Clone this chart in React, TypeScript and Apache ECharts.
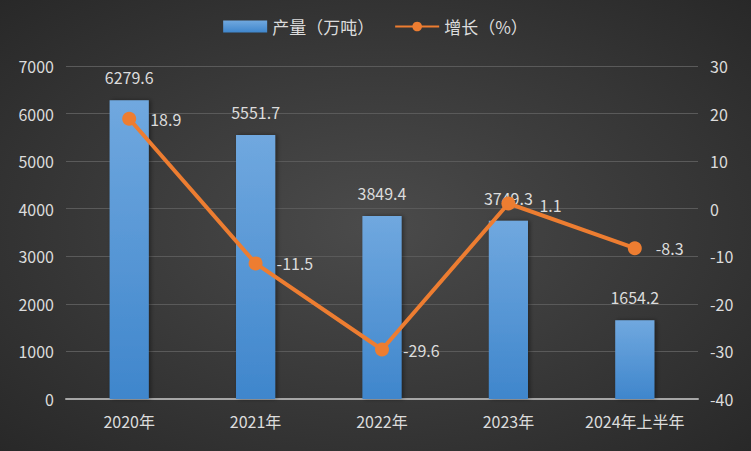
import React, { useEffect, useRef } from "react";
import * as echarts from "echarts";

const categories = ["2020年", "2021年", "2022年", "2023年", "2024年上半年"];
const output = [6279.6, 5551.7, 3849.4, 3749.3, 1654.2];
const growth = [18.9, -11.5, -29.6, 1.1, -8.3];

export default function App() {
  const ref = useRef<HTMLDivElement>(null);
  useEffect(() => {
    const chart = echarts.init(ref.current!, null, { renderer: "svg" });
    const txt = "#dcdcdc";
    const font = "'Noto Sans CJK SC', sans-serif";
    chart.setOption({
      animation: false,
      backgroundColor: {
        type: "radial",
        x: 0.5,
        y: 0.5,
        r: 0.75,
        colorStops: [
          { offset: 0, color: "#4b4b4b" },
          { offset: 1, color: "#262626" },
        ],
      },
      textStyle: { fontFamily: font },
      legend: {
        top: 13,
        left: "center",
        itemWidth: 44,
        itemHeight: 12,
        itemGap: 20,
        textStyle: { color: txt, fontSize: 17, fontFamily: font },
        data: [
          { name: "产量（万吨）", icon: "rect" },
          { name: "增长（%）" },
        ],
      },
      grid: { left: 66, right: 53, top: 66, bottom: 52 },
      xAxis: {
        type: "category",
        data: categories,
        axisLine: { lineStyle: { color: "#a6a6a6", width: 2 } },
        axisTick: { show: false },
        axisLabel: {
          color: txt,
          fontSize: 16,
          margin: 14,
          fontFamily: font,
          interval: 0,
          hideOverlap: false,
        },
      },
      yAxis: [
        {
          type: "value",
          min: 0,
          max: 7000,
          interval: 1000,
          axisLabel: {
            color: txt,
            fontSize: 16,
            margin: 12,
            fontFamily: font,
            formatter: (v: number) => String(v),
          },
          splitLine: { lineStyle: { color: "#5a5a5a", width: 1 } },
          axisLine: { show: false },
        },
        {
          type: "value",
          min: -40,
          max: 30,
          interval: 10,
          axisLabel: {
            color: txt,
            fontSize: 16,
            margin: 12,
            fontFamily: font,
            formatter: (v: number) => String(v),
          },
          splitLine: { show: false },
          axisLine: { show: false },
        },
      ],
      series: [
        {
          name: "产量（万吨）",
          type: "bar",
          data: output,
          barWidth: "31%",
          itemStyle: {
            color: {
              type: "linear",
              x: 0,
              y: 0,
              x2: 0,
              y2: 1,
              colorStops: [
                { offset: 0, color: "#70a8df" },
                { offset: 1, color: "#3f86cc" },
              ],
            },
            shadowColor: "rgba(0,0,0,0.4)",
            shadowBlur: 4,
            shadowOffsetX: 2,
          },
          label: {
            show: true,
            position: "top",
            distance: 15,
            color: txt,
            fontSize: 16,
            fontFamily: font,
            formatter: (p: any) => p.value.toFixed(1),
          },
        },
        {
          name: "增长（%）",
          type: "line",
          yAxisIndex: 1,
          data: growth.map((v, i) =>
            i === 3 ? { value: v, label: { offset: [10, 2] } } : v
          ),
          symbol: "circle",
          symbolSize: 14,
          lineStyle: { color: "#ed7d31", width: 4 },
          itemStyle: { color: "#ed7d31" },
          label: {
            show: true,
            position: "right",
            distance: 14,
            color: txt,
            fontSize: 16,
            fontFamily: font,
          },
        },
      ],
    });
    return () => chart.dispose();
  }, []);
  return <div ref={ref} style={{ width: 751, height: 451, position: "absolute", left: 0, top: 0 }} />;
}
